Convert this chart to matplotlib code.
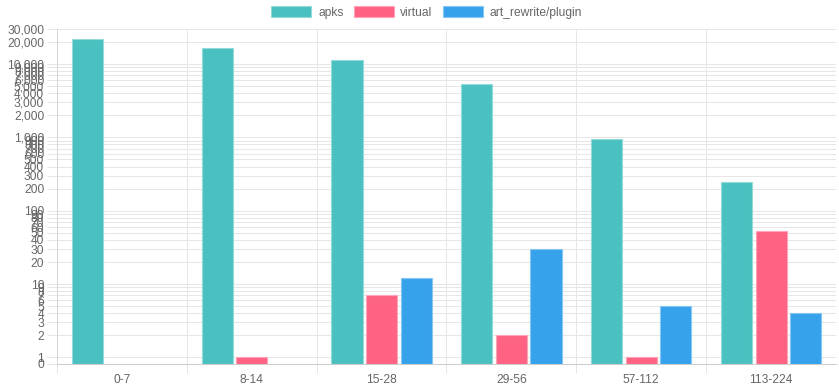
import numpy as np
import matplotlib
matplotlib.use("Agg")
import matplotlib.pyplot as plt
from matplotlib.patches import Patch
from matplotlib.ticker import FixedLocator, FuncFormatter

plt.rcParams['font.family'] = ['Liberation Sans', 'DejaVu Sans']

# Data
categories = ['0-7', '8-14', '15-28', '29-56', '57-112', '113-224']
apks = [21600, 16300, 11500, 5270, 940, 244]
virtual = [0, 1, 7, 2, 1, 53]
art_rewrite = [0, 0, 12, 30, 5, 4]

series_names = ['apks', 'virtual', 'art_rewrite/plugin']
fills = ['#4bc0c0', '#ff6384', '#36a2eb']
edges = ['#93dada', '#ffa3b8', '#86c6f2']

# y tick values like a chart.js log axis starting at 0
y_ticks = [0] + [m * 10 ** e for e in range(5) for m in range(1, 10) if m * 10 ** e <= 30000]

# log scale with 0 pinned a little below 1
C = 0.089

def fwd(v):
    v = np.asarray(v, dtype=float)
    return np.where(v >= 1, C + np.log10(np.maximum(v, 1)), C * v)

def inv(y):
    y = np.asarray(y, dtype=float)
    return np.where(y >= C, 10 ** (np.minimum(y, 20) - C), y / C)

grid_c = '#e6e6e6'
text_c = '#666666'
fs = 8.64

fig = plt.figure(figsize=(8.39, 3.86), dpi=100)
ax = fig.add_axes([57 / 839, 1 - 364 / 386, 779 / 839, 335 / 386])

x = np.arange(len(categories))
group = 0.8
slot = group / 3
bw = slot * 0.9
for k, vals in enumerate([apks, virtual, art_rewrite]):
    vals = np.array(vals, dtype=float)
    keep = vals > 0
    ax.bar(x[keep] + (k - 1) * slot, vals[keep], width=bw, color=fills[k],
           edgecolor=edges[k], linewidth=0.8, zorder=3)

ax.set_yscale('function', functions=(fwd, inv))
ax.set_ylim(0, 30000)
ax.set_xlim(-0.5, len(categories) - 0.5)

ax.yaxis.set_major_locator(FixedLocator(y_ticks))
ax.yaxis.set_major_formatter(FuncFormatter(lambda v, p: f'{int(round(v)):,}'))
ax.yaxis.set_minor_locator(FixedLocator([]))
ax.tick_params(axis='y', which='major', length=7.2, width=0.72, color=grid_c,
               labelcolor=text_c, labelsize=fs, pad=2)
ax.grid(axis='y', which='major', color=grid_c, linewidth=0.72, zorder=0)

ax.set_xticks(x)
ax.set_xticklabels(categories)
ax.set_xticks(np.arange(len(categories)) - 0.5, minor=True)
ax.tick_params(axis='x', which='major', length=0, labelcolor=text_c, labelsize=fs, pad=7)
ax.tick_params(axis='x', which='minor', length=6.5, width=0.72, color=grid_c)
ax.grid(axis='x', which='minor', color=grid_c, linewidth=0.72, zorder=0)

for s in ['top', 'right']:
    ax.spines[s].set_visible(False)
ax.spines['left'].set_color('#d6d6d6')
ax.spines['left'].set_linewidth(0.72)
ax.spines['bottom'].set_color('#cccccc')
ax.spines['bottom'].set_linewidth(0.72)

handles = [Patch(facecolor=fills[k], edgecolor=edges[k], linewidth=0.8) for k in range(3)]
fig.legend(handles, series_names, loc='center', bbox_to_anchor=(426.5 / 839, 1 - 12.5 / 386),
           ncol=3, frameon=False, fontsize=fs, labelcolor=text_c,
           handlelength=3.33, handleheight=0.95, handletextpad=0.55, columnspacing=0.85)

fig.savefig('out.png', dpi=100)
